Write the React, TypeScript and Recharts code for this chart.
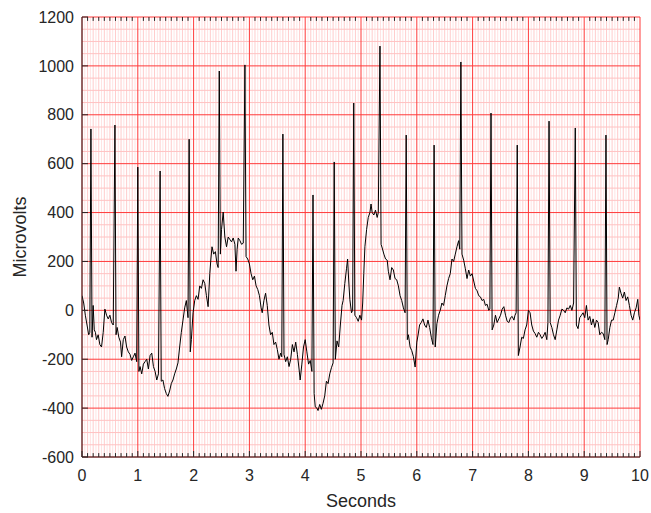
import { LineChart, Line, XAxis, YAxis, CartesianGrid, ReferenceLine, Label } from "recharts"

// ECG trace (seconds / microvolts)
const SECONDS = [
  0.0, 0.03, 0.06, 0.09, 0.12, 0.14, 0.16, 0.18, 0.2, 0.22, 0.24, 0.26, 0.29, 0.32, 0.35, 0.38, 0.41, 0.44, 0.47, 0.5,
  0.53, 0.56, 0.59, 0.61, 0.63, 0.66, 0.69, 0.71, 0.74, 0.77, 0.8, 0.83, 0.86, 0.89, 0.92, 0.95, 0.98, 1.0, 1.02, 1.04,
  1.07, 1.1, 1.13, 1.16, 1.19, 1.22, 1.25, 1.28, 1.31, 1.34, 1.37, 1.4, 1.42, 1.45, 1.48, 1.51, 1.54, 1.57, 1.6, 1.63,
  1.66, 1.69, 1.72, 1.75, 1.78, 1.81, 1.84, 1.87, 1.9, 1.92, 1.94, 1.96, 1.99, 2.02, 2.05, 2.08, 2.11, 2.14, 2.17, 2.2,
  2.23, 2.26, 2.29, 2.31, 2.33, 2.36, 2.39, 2.42, 2.44, 2.46, 2.48, 2.5, 2.53, 2.56, 2.59, 2.62, 2.65, 2.68, 2.71, 2.74,
  2.76, 2.78, 2.8, 2.83, 2.86, 2.89, 2.92, 2.94, 2.97, 3.0, 3.03, 3.06, 3.09, 3.12, 3.15, 3.18, 3.21, 3.23, 3.26, 3.29,
  3.32, 3.35, 3.38, 3.41, 3.44, 3.47, 3.5, 3.53, 3.56, 3.58, 3.6, 3.62, 3.65, 3.68, 3.71, 3.74, 3.77, 3.8, 3.83, 3.86,
  3.89, 3.91, 3.94, 3.97, 4.0, 4.03, 4.06, 4.09, 4.12, 4.14, 4.16, 4.18, 4.21, 4.23, 4.26, 4.29, 4.32, 4.35, 4.38, 4.41,
  4.44, 4.47, 4.5, 4.52, 4.54, 4.57, 4.6, 4.63, 4.66, 4.68, 4.71, 4.74, 4.76, 4.78, 4.8, 4.83, 4.85, 4.87, 4.89, 4.92,
  4.95, 4.98, 5.01, 5.03, 5.05, 5.07, 5.1, 5.13, 5.16, 5.18, 5.2, 5.23, 5.26, 5.29, 5.31, 5.34, 5.36, 5.38, 5.41, 5.44,
  5.47, 5.49, 5.52, 5.55, 5.58, 5.61, 5.64, 5.67, 5.7, 5.73, 5.76, 5.79, 5.81, 5.83, 5.85, 5.88, 5.91, 5.94, 5.97, 6.0,
  6.02, 6.05, 6.08, 6.11, 6.14, 6.17, 6.2, 6.23, 6.26, 6.29, 6.31, 6.33, 6.36, 6.39, 6.42, 6.45, 6.48, 6.51, 6.54, 6.57,
  6.6, 6.63, 6.66, 6.69, 6.72, 6.75, 6.77, 6.79, 6.81, 6.84, 6.87, 6.9, 6.93, 6.96, 6.99, 7.02, 7.05, 7.08, 7.11, 7.14,
  7.17, 7.2, 7.23, 7.26, 7.29, 7.31, 7.33, 7.35, 7.38, 7.41, 7.44, 7.47, 7.5, 7.53, 7.56, 7.59, 7.62, 7.65, 7.68, 7.71,
  7.74, 7.76, 7.78, 7.8, 7.82, 7.85, 7.88, 7.91, 7.94, 7.97, 8.0, 8.03, 8.06, 8.09, 8.12, 8.15, 8.18, 8.21, 8.24, 8.27,
  8.3, 8.33, 8.35, 8.37, 8.39, 8.42, 8.45, 8.48, 8.51, 8.54, 8.57, 8.6, 8.63, 8.66, 8.69, 8.72, 8.75, 8.78, 8.81, 8.84,
  8.86, 8.89, 8.92, 8.95, 8.98, 9.01, 9.04, 9.07, 9.1, 9.13, 9.16, 9.19, 9.22, 9.25, 9.28, 9.31, 9.34, 9.37, 9.39, 9.41,
  9.43, 9.46, 9.49, 9.52, 9.55, 9.58, 9.61, 9.63, 9.66, 9.69, 9.72, 9.75, 9.78, 9.81, 9.84, 9.87, 9.9, 9.93, 9.96, 9.98,
  10.0,
]

const MICROVOLTS = [
  60, 30, -20, -60, -100, -90, 742, -110, 20, -80, -90, -120, -100, -140, -150, -90, 5, -20, -35, -20,
  -50, -60, 758, -100, -70, -110, -130, -190, -120, -105, -150, -170, -180, -205, -190, -175, -210, 586, -250, -230,
  -260, -220, -210, -200, -240, -185, -175, -230, -250, -285, -260, 570, -290, -285, -320, -340, -352, -330, -300, -285,
  -260, -240, -215, -150, -90, -40, 10, 40, -30, 700, -170, -120, -10, 40, 60, 45, 100, 90, 125, 110,
  60, 15, 150, 210, 260, 230, 240, 190, 175, 979, 230, 330, 402, 300, 260, 300, 290, 280, 296, 270,
  160, 250, 296, 285, 270, 275, 1004, 220, 210, 190, 150, 125, 140, 100, 85, 60, 10, -10, 40, 70,
  20, -60, -100, -90, -140, -130, -160, -200, -175, -190, 721, -180, -210, -190, -230, -200, -140, -170, -130, -180,
  -240, -285, -220, -150, -120, -170, -220, -205, -250, 472, -340, -395, -400, -410, -385, -405, -380, -350, -290, -300,
  -260, -235, -215, 607, -200, -125, -150, -60, 20, 40, 110, 170, 210, 120, 45, -10, 0, 848, -20, -30,
  -45, -20, -40, 30, 150, 260, 330, 380, 400, 435, 400, 390, 410, 380, 400, 1081, 270, 255, 230, 210,
  205, 160, 125, 175, 165, 130, 125, 100, 60, 40, 10, -10, 717, -120, -100, -150, -165, -190, -232, -130,
  -105, -60, -50, -35, -60, -70, -40, -70, -110, -140, 676, -150, -55, -20, 0, 30, 20, 60, 100, 130,
  150, 210, 200, 230, 260, 285, 250, 1016, 230, 205, 170, 130, 165, 140, 150, 120, 90, 80, 60, 55,
  40, 45, 20, 25, 0, 5, 807, -80, -60, -20, -50, -35, -20, 5, 15, -20, -45, -50, -30, -25,
  -40, -20, -10, 676, -185, -150, -110, -115, -80, -60, 0, -10, -60, -85, -95, -110, -90, -100, -115, -105,
  -90, -120, -50, 774, -50, -70, -100, -120, -80, -40, -20, 5, 0, -10, 10, 5, 20, 0, 30, 746,
  -60, -75, -30, -20, -10, -30, 20, -40, -25, -60, -35, -70, -40, -50, -100, -90, -95, -120, 717, -140,
  -120, -70, -40, -40, -10, 20, 50, 95, 70, 50, 75, 40, 55, 20, -20, -40, -10, 10, 45, -20,
  -40,
]

const X_TICKS = [0, 1, 2, 3, 4, 5, 6, 7, 8, 9, 10]
const Y_TICKS = [-600, -400, -200, 0, 200, 400, 600, 800, 1000, 1200]

const data = SECONDS.map((t, i) => ({ t, v: MICROVOLTS[i] }))

// paper grid positions
const X_TENTHS = Array.from({ length: 101 }, (_, i) => i / 10).filter((v) => !Number.isInteger(v))
const X_HALVES = Array.from({ length: 100 }, (_, i) => (2 * i + 1) / 20)
const Y_MINOR = Array.from({ length: 37 }, (_, i) => -600 + i * 50).filter((v) => v % 200 !== 0)

const INK = "#262626"
const FONT = "'Liberation Sans', Arial, Helvetica, sans-serif"

export default function App() {
  return (
    <div style={{ position: "absolute", left: 0, top: 0, width: 651, height: 513, fontFamily: FONT }}>
      <LineChart width={651} height={513} data={data} margin={{ top: 17, right: 11, bottom: 0, left: 0 }}>
        <CartesianGrid horizontal={false} verticalValues={X_HALVES} stroke="#ffe3e3" strokeWidth={1} />
        <CartesianGrid horizontal={false} verticalValues={X_TENTHS} stroke="#ffcccc" strokeWidth={1} />
        <CartesianGrid vertical={false} horizontalValues={Y_MINOR} stroke="#ffc2c2" strokeWidth={1} />
        <CartesianGrid verticalValues={X_TICKS} horizontalValues={Y_TICKS} stroke="#ff3b3b" strokeWidth={1} />

        <XAxis
          dataKey="t"
          type="number"
          domain={[0, 10]}
          ticks={X_TICKS}
          interval={0}
          allowDataOverflow
          height={56}
          tickSize={-6}
          tickMargin={19}
          stroke={INK}
          tick={{ fill: INK, fontSize: 16, fontFamily: FONT }}
        >
          <Label value="Seconds" position="insideBottom" offset={6} fill={INK} fontSize={18} fontFamily={FONT} />
        </XAxis>
        <XAxis
          xAxisId="top"
          orientation="top"
          type="number"
          domain={[0, 10]}
          ticks={X_TICKS}
          interval={0}
          allowDataOverflow
          height={0}
          tickSize={-6}
          tick={false}
          stroke={INK}
        />
        <YAxis
          type="number"
          domain={[-600, 1200]}
          ticks={Y_TICKS}
          interval={0}
          allowDataOverflow
          width={82}
          tickSize={-6}
          tickMargin={14}
          stroke={INK}
          tick={{ fill: INK, fontSize: 16, fontFamily: FONT }}
        >
          <Label
            value="Microvolts"
            angle={-90}
            position="insideLeft"
            offset={20}
            textAnchor="middle"
            fill={INK}
            fontSize={18}
            fontFamily={FONT}
          />
        </YAxis>
        <YAxis
          yAxisId="right"
          orientation="right"
          type="number"
          domain={[-600, 1200]}
          ticks={Y_TICKS}
          interval={0}
          allowDataOverflow
          width={0}
          tickSize={-6}
          tick={false}
          stroke={INK}
        />

        {X_TENTHS.map((x) => (
          <ReferenceLine
            key={"b" + x}
            segment={[{ x, y: -600 }, { x, y: -584 }]}
            stroke={INK}
            strokeWidth={1}
          />
        ))}
        {X_TENTHS.map((x) => (
          <ReferenceLine
            key={"t" + x}
            segment={[{ x, y: 1200 }, { x, y: 1184 }]}
            stroke={INK}
            strokeWidth={1}
          />
        ))}

        <Line
          dataKey="v"
          type="linear"
          stroke="#000000"
          strokeWidth={1}
          dot={false}
          activeDot={false}
          isAnimationActive={false}
        />
      </LineChart>
    </div>
  )
}
